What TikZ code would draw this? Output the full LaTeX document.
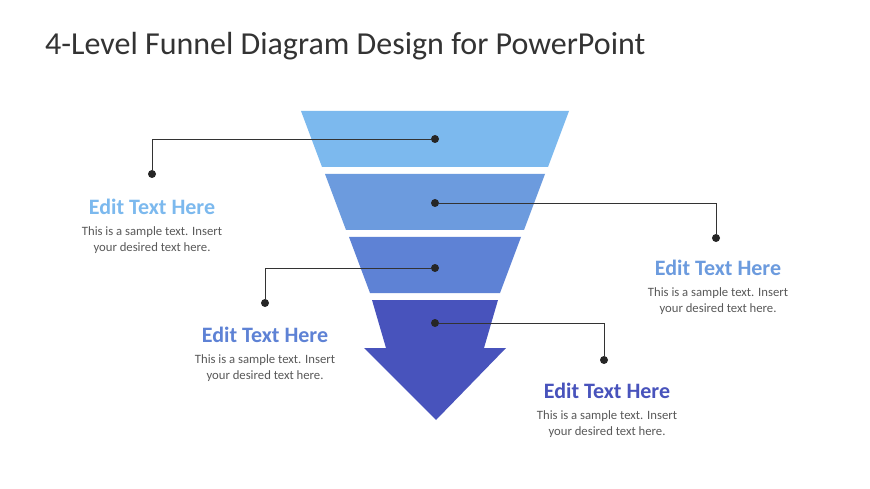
\documentclass[tikz,border=0pt]{standalone}
\usepackage{fontspec}
\setmainfont{Carlito}
\definecolor{levA}{HTML}{7CB9EE}
\definecolor{levB}{HTML}{6C9BDE}
\definecolor{levC}{HTML}{5E82D5}
\definecolor{levD}{HTML}{4853BC}
\definecolor{txtgray}{HTML}{595959}
\tikzset{
	dot/.style={circle, fill=black!85, inner sep=0pt, minimum size=8pt},
	leader/.style={draw=black!80, line width=0.7pt},
	heading/.style={font=\fontsize{22pt}{24pt}\selectfont\bfseries},
	body/.style={font=\fontsize{12.7pt}{15.5pt}\selectfont, text=txtgray, align=center}
}
\begin{document}
\begin{tikzpicture}[x=1pt,y=-1pt]
	\fill[white] (0,0) rectangle (870,489);
	\node[anchor=west, inner sep=0pt, text=black!80, font=\fontsize{32pt}{34pt}\selectfont] (title) at (45,46) {4-Level Funnel Diagram Design for PowerPoint};
	% funnel levels
	\fill[levA] (301,111) -- (569,111) -- (548,167) -- (322,167) -- cycle;
	\fill[levB] (325,174) -- (545,174) -- (524,230) -- (346,230) -- cycle;
	\fill[levC] (349,237) -- (521,237) -- (500,293) -- (370,293) -- cycle;
	\fill[levD] (372,300) -- (498,300) -- (484,348) -- (506,348) -- (436,420) -- (364,348) -- (386,348) -- cycle;
	% dots and leaders
	\node[dot] (d1) at (435,139) {};
	\node[dot] (d2) at (435,203) {};
	\node[dot] (d3) at (435,268) {};
	\node[dot] (d4) at (435,323) {};
	\node[dot] (e1) at (152,174) {};
	\node[dot] (e2) at (716,238) {};
	\node[dot] (e3) at (265,303) {};
	\node[dot] (e4) at (604,360) {};
	\draw[leader] (d1) -| (e1);
	\draw[leader] (d2) -| (e2);
	\draw[leader] (d3) -| (e3);
	\draw[leader] (d4) -| (e4);
	% texts
	\node[heading, text=levA] (h1) at (152,207) {Edit Text Here};
	\node[body] (b1) at (152,240) {This is a sample text. Insert\\your desired text here.};
	\node[heading, text=levB] (h2) at (718,268) {Edit Text Here};
	\node[body] (b2) at (718,301) {This is a sample text. Insert\\your desired text here.};
	\node[heading, text=levC] (h3) at (265,335) {Edit Text Here};
	\node[body] (b3) at (265,368) {This is a sample text. Insert\\your desired text here.};
	\node[heading, text=levD] (h4) at (607,391) {Edit Text Here};
	\node[body] (b4) at (607,424) {This is a sample text. Insert\\your desired text here.};
\end{tikzpicture}
\end{document}
